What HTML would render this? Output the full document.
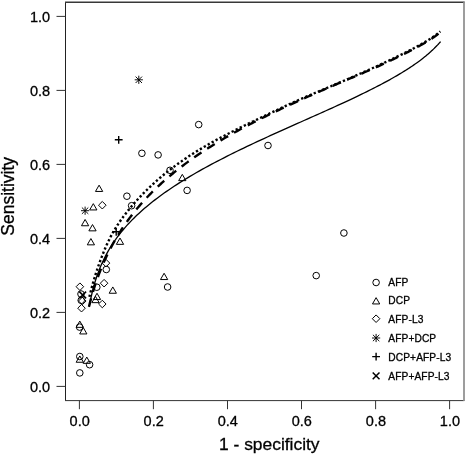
<!DOCTYPE html>
<html><head><meta charset="utf-8"><title>SROC</title>
<style>
html,body{margin:0;padding:0;background:#fff;}
body{width:466px;height:454px;overflow:hidden;}
svg{display:block;}
text{font-family:"Liberation Sans",sans-serif;fill:#000;stroke:#000;stroke-width:0.3px;}
</style></head><body>
<svg width="466" height="454" viewBox="0 0 466 454">
<rect width="466" height="454" fill="#fff"/>
<path d="M65.5,400.6 V2.2" stroke="#222" stroke-width="1" fill="none"/>
<path d="M65,400.6 H464.3" stroke="#333" stroke-width="1" fill="none"/>
<path d="M65,2.25 H464.5" stroke="#383838" stroke-width="1.4" fill="none"/>
<path d="M464,1.6 V401.1" stroke="#8c8c8c" stroke-width="1.7" fill="none"/>
<path d="M79.4,400.6 V409.2" stroke="#333" stroke-width="1"/>
<path d="M56.5,386.4 H65.5" stroke="#333" stroke-width="1"/>
<text x="79.7" y="426" font-size="14.5" text-anchor="middle">0.0</text>
<text x="50.2" y="392" font-size="14.5" text-anchor="end">0.0</text>
<path d="M153.4,400.6 V409.2" stroke="#333" stroke-width="1"/>
<path d="M56.5,312.4 H65.5" stroke="#333" stroke-width="1"/>
<text x="153.7" y="426" font-size="14.5" text-anchor="middle">0.2</text>
<text x="50.2" y="318" font-size="14.5" text-anchor="end">0.2</text>
<path d="M227.5,400.6 V409.2" stroke="#333" stroke-width="1"/>
<path d="M56.5,238.4 H65.5" stroke="#333" stroke-width="1"/>
<text x="227.8" y="426" font-size="14.5" text-anchor="middle">0.4</text>
<text x="50.2" y="244" font-size="14.5" text-anchor="end">0.4</text>
<path d="M301.5,400.6 V409.2" stroke="#333" stroke-width="1"/>
<path d="M56.5,164.4 H65.5" stroke="#333" stroke-width="1"/>
<text x="301.8" y="426" font-size="14.5" text-anchor="middle">0.6</text>
<text x="50.2" y="170" font-size="14.5" text-anchor="end">0.6</text>
<path d="M375.6,400.6 V409.2" stroke="#333" stroke-width="1"/>
<path d="M56.5,90.4 H65.5" stroke="#333" stroke-width="1"/>
<text x="375.9" y="426" font-size="14.5" text-anchor="middle">0.8</text>
<text x="50.2" y="96" font-size="14.5" text-anchor="end">0.8</text>
<path d="M449.6,400.6 V409.2" stroke="#333" stroke-width="1"/>
<path d="M56.5,16.4 H65.5" stroke="#333" stroke-width="1"/>
<text x="449.9" y="426" font-size="14.5" text-anchor="middle">1.0</text>
<text x="50.2" y="22" font-size="14.5" text-anchor="end">1.0</text>
<text x="269.3" y="450" font-size="17.4" text-anchor="middle">1 - specificity</text>
<text transform="translate(14,196.3) rotate(-90)" font-size="17.5" text-anchor="middle">Sensitivity</text>
<path d="M89.30,306.35 L89.66,304.41 L90.03,302.48 L90.42,300.55 L90.81,298.64 L91.23,296.73 L91.65,294.83 L92.09,292.95 L92.55,291.08 L93.02,289.21 L93.51,287.36 L94.02,285.51 L94.54,283.68 L95.08,281.86 L95.64,280.05 L96.22,278.24 L96.81,276.45 L97.43,274.66 L98.07,272.89 L98.73,271.12 L99.41,269.36 L100.12,267.61 L100.85,265.86 L101.60,264.13 L102.37,262.40 L103.18,260.67 L104.00,258.95 L104.86,257.24 L105.74,255.53 L106.65,253.82 L107.59,252.12 L108.56,250.43 L109.56,248.73 L110.59,247.04 L111.65,245.35 L112.74,243.67 L113.87,241.98 L115.03,240.30 L116.23,238.62 L117.46,236.94 L118.73,235.26 L120.04,233.58 L121.38,231.90 L122.76,230.22 L124.18,228.55 L125.64,226.87 L127.15,225.19 L128.69,223.51 L130.28,221.83 L131.90,220.14 L133.58,218.46 L135.29,216.78 L137.05,215.09 L138.86,213.41 L140.71,211.72 L142.60,210.03 L144.54,208.34 L146.53,206.65 L148.57,204.96 L150.65,203.27 L152.78,201.57 L154.96,199.88 L157.19,198.18 L159.46,196.49 L161.78,194.79 L164.15,193.09 L166.57,191.40 L169.03,189.70 L171.54,188.01 L174.10,186.31 L176.70,184.62 L179.35,182.92 L182.05,181.23 L184.78,179.54 L187.57,177.85 L190.39,176.16 L193.26,174.48 L196.16,172.79 L199.11,171.11 L202.10,169.44 L205.12,167.76 L208.17,166.09 L211.27,164.43 L214.39,162.77 L217.55,161.11 L220.73,159.46 L223.95,157.81 L227.18,156.17 L230.45,154.53 L233.73,152.90 L237.04,151.28 L240.36,149.66 L243.70,148.05 L247.05,146.44 L250.41,144.85 L253.79,143.26 L257.17,141.68 L260.55,140.11 L263.94,138.54 L267.33,136.99 L270.72,135.44 L274.10,133.91 L277.48,132.38 L280.84,130.86 L284.20,129.36 L287.54,127.86 L290.87,126.37 L294.18,124.90 L297.48,123.43 L300.75,121.97 L303.99,120.53 L307.21,119.10 L310.41,117.68 L313.57,116.27 L316.71,114.87 L319.81,113.48 L322.88,112.11 L325.91,110.75 L328.91,109.40 L331.87,108.06 L334.79,106.74 L337.67,105.42 L340.51,104.12 L343.31,102.84 L346.06,101.56 L348.77,100.30 L351.43,99.05 L354.05,97.82 L356.62,96.59 L359.15,95.38 L361.63,94.19 L364.06,93.00 L366.44,91.83 L368.78,90.67 L371.07,89.53 L373.31,88.40 L375.51,87.28 L377.65,86.17 L379.75,85.08 L381.80,84.00 L383.81,82.93 L385.76,81.88 L387.68,80.84 L389.54,79.81 L391.36,78.79 L393.14,77.79 L394.87,76.80 L396.55,75.83 L398.19,74.86 L399.79,73.91 L401.35,72.98 L402.87,72.05 L404.34,71.14 L405.78,70.24 L407.17,69.35 L408.53,68.48 L409.85,67.61 L411.13,66.76 L412.37,65.93 L413.58,65.10 L414.75,64.29 L415.89,63.49 L417.00,62.70 L418.07,61.92 L419.11,61.16 L420.12,60.40 L421.10,59.66 L422.04,58.93 L422.96,58.22 L423.86,57.51 L424.72,56.82 L425.55,56.14 L426.37,55.47 L427.15,54.81 L427.91,54.16 L428.65,53.53 L429.36,52.90 L430.05,52.29 L430.71,51.69 L431.36,51.10 L431.98,50.52 L432.59,49.95 L433.17,49.40 L433.74,48.85 L434.29,48.32 L434.81,47.79 L435.32,47.28 L435.82,46.78 L436.30,46.29 L436.76,45.81 L437.20,45.34 L437.64,44.89 L438.05,44.44 L438.46,44.00 L438.84,43.58 L439.22,43.16 L439.58,42.76 L439.93,42.37 L440.27,41.98 L440.60,41.61" fill="none" stroke="#000" stroke-width="1.3"/>
<path d="M88.80,307.39 L88.97,306.68 L89.14,305.98 L89.32,305.27 L89.49,304.55 L89.68,303.83 L89.86,303.10 L90.05,302.37 L90.24,301.64 L90.43,300.89 L90.63,300.15 L90.83,299.40 L91.04,298.64 L91.24,297.88 L91.46,297.12 L91.67,296.35 L91.89,295.57 L92.11,294.79 L92.34,294.01 L92.57,293.22 L92.80,292.43 L93.04,291.63 L93.28,290.83 L93.53,290.02 L93.78,289.21 L94.04,288.39 L94.30,287.57 L94.56,286.74 L94.83,285.91 L95.10,285.07 L95.38,284.23 L95.66,283.39 L95.95,282.54 L96.24,281.68 L96.54,280.82 L96.84,279.96 L97.14,279.09 L97.46,278.22 L97.77,277.34 L98.10,276.46 L98.42,275.58 L98.76,274.69 L99.09,273.79 L99.44,272.89 L99.79,271.99 L100.14,271.08 L100.50,270.17 L100.87,269.26 L101.24,268.34 L101.62,267.41 L102.01,266.48 L102.40,265.55 L102.80,264.62 L103.20,263.68 L103.61,262.73 L104.03,261.79 L104.46,260.84 L104.89,259.88 L105.32,258.92 L105.77,257.96 L106.22,256.99 L106.68,256.02 L107.15,255.05 L107.62,254.08 L108.10,253.10 L108.59,252.11 L109.08,251.13 L109.59,250.14 L110.10,249.14 L110.62,248.15 L111.14,247.15 L111.68,246.15 L112.22,245.14 L112.77,244.13 L113.33,243.12 L113.90,242.11 L114.48,241.09 L115.06,240.07 L115.66,239.05 L116.26,238.03 L116.87,237.00 L117.49,235.97 L118.12,234.94 L118.76,233.90 L119.41,232.87 L120.07,231.83 L120.74,230.79 L121.41,229.74 L122.10,228.70 L122.80,227.65 L123.50,226.60 L124.22,225.55 L124.94,224.50 L125.68,223.45 L126.43,222.39 L127.18,221.34 L127.95,220.28 L128.73,219.22 L129.51,218.16 L130.31,217.10 L131.12,216.04 L131.94,214.97 L132.77,213.91 L133.61,212.84 L134.46,211.77 L135.33,210.71 L136.20,209.64 L137.09,208.57 L137.98,207.50 L138.89,206.43 L139.81,205.36 L140.74,204.29 L141.68,203.22 L142.64,202.15 L143.60,201.08 L144.58,200.01 L145.57,198.94 L146.57,197.87 L147.58,196.80 L148.60,195.73 L149.64,194.66 L150.69,193.59 L151.75,192.52 L152.82,191.45 L153.90,190.38 L155.00,189.32 L156.10,188.25 L157.22,187.19 L158.35,186.12 L159.49,185.06 L160.65,184.00 L161.81,182.94 L162.99,181.88 L164.18,180.82 L165.39,179.77 L166.60,178.71 L167.83,177.66 L169.06,176.61 L170.31,175.56 L171.57,174.51 L172.85,173.46 L174.13,172.42 L175.43,171.38 L176.73,170.34 L178.05,169.30 L179.38,168.26 L180.72,167.23 L182.07,166.20 L183.44,165.17 L184.81,164.14 L186.20,163.12 L187.59,162.10 L189.00,161.08 L190.42,160.06 L191.84,159.05 L193.28,158.04 L194.73,157.03 L196.19,156.02 L197.65,155.02 L199.13,154.02 L200.62,153.03 L202.12,152.04 L203.62,151.05 L205.14,150.06 L206.66,149.08 L208.19,148.10 L209.73,147.12 L211.28,146.15 L212.84,145.18 L214.41,144.22 L215.98,143.26 L217.56,142.30 L219.15,141.34 L220.74,140.39 L222.35,139.45 L223.96,138.50 L225.57,137.57 L227.19,136.63 L228.82,135.70 L230.45,134.77 L232.09,133.85 L233.74,132.93 L235.39,132.02 L237.04,131.11 L238.70,130.20 L240.36,129.30 L242.03,128.40 L243.70,127.51 L245.37,126.62 L247.05,125.73 L248.73,124.85 L250.41,123.98 L252.10,123.11 L253.78,122.24 L255.47,121.38 L257.16,120.52 L258.86,119.67 L260.55,118.82 L262.24,117.97 L263.93,117.13 L265.63,116.30 L267.32,115.47 L269.01,114.64 L270.71,113.82 L272.40,113.00 L274.09,112.19 L275.78,111.39 L277.46,110.58 L279.15,109.79 L280.83,108.99 L282.51,108.21 L284.18,107.42 L285.85,106.65 L287.52,105.87 L289.19,105.10 L290.85,104.34 L292.51,103.58 L294.16,102.83 L295.81,102.08 L297.45,101.33 L299.09,100.60 L300.72,99.86 L302.35,99.13 L303.96,98.41 L305.58,97.69 L307.19,96.97 L308.79,96.26 L310.38,95.56 L311.96,94.85 L313.54,94.16 L315.11,93.47 L316.68,92.78 L318.23,92.10 L319.78,91.43 L321.32,90.75 L322.85,90.09 L324.37,89.43 L325.88,88.77 L327.38,88.12 L328.88,87.47 L330.36,86.83 L331.83,86.19 L333.30,85.56 L334.75,84.93 L336.20,84.30 L337.63,83.68 L339.06,83.07 L340.47,82.46 L341.87,81.86 L343.26,81.26 L344.65,80.68 L346.02,80.11 L347.38,79.55 L348.72,78.99 L350.06,78.43 L351.39,77.87 L352.70,77.32 L354.01,76.77 L355.30,76.23 L356.58,75.69 L357.85,75.15 L359.10,74.61 L360.35,74.08 L361.58,73.56 L362.80,73.03 L364.01,72.51 L365.21,72.00 L366.40,71.49 L367.57,70.98 L368.74,70.48 L369.89,69.97 L371.02,69.48 L372.15,68.98 L373.27,68.50 L374.37,68.01 L375.46,67.52 L376.54,67.03 L377.61,66.54 L378.66,66.06 L379.70,65.58 L380.74,65.10 L381.76,64.63 L382.76,64.16 L383.76,63.70 L384.75,63.24 L385.72,62.78 L386.68,62.33 L387.63,61.89 L388.57,61.44 L389.50,61.01 L390.41,60.57 L391.32,60.14 L392.21,59.72 L393.09,59.30 L393.96,58.88 L394.82,58.47 L395.67,58.06 L396.51,57.65 L397.33,57.25 L398.15,56.86 L398.95,56.46 L399.75,56.08 L400.53,55.69 L401.31,55.31 L402.07,54.93 L402.82,54.56 L403.57,54.19 L404.30,53.83 L405.02,53.47 L405.73,53.11 L406.44,52.76 L407.13,52.41 L407.81,52.06 L408.49,51.72 L409.15,51.38 L409.80,51.04 L410.45,50.71 L411.09,50.38 L411.71,50.05 L412.33,49.73 L412.94,49.41 L413.54,49.10 L414.13,48.79 L414.71,48.48 L415.29,48.17 L415.85,47.87 L416.41,47.57 L416.96,47.27 L417.50,46.98 L418.03,46.69 L418.56,46.40 L419.07,46.12 L419.58,45.84 L420.08,45.56 L420.58,45.29 L421.06,45.01 L421.54,44.74 L422.01,44.48 L422.47,44.21 L422.93,43.95 L423.38,43.69 L423.82,43.44 L424.26,43.18 L424.69,42.93 L425.11,42.69 L425.52,42.44 L425.93,42.20 L426.33,41.96 L426.73,41.72 L427.12,41.48 L427.50,41.25 L427.88,41.02 L428.25,40.79 L428.62,40.57 L428.98,40.34 L429.33,40.12 L429.68,39.90 L430.02,39.68 L430.36,39.47 L430.69,39.26 L431.01,39.04 L431.33,38.84 L431.65,38.63 L431.96,38.42 L432.26,38.22 L432.56,38.02 L432.86,37.82 L433.15,37.62 L433.43,37.43 L433.71,37.23 L433.99,37.04 L434.26,36.85 L434.53,36.66 L434.79,36.48 L435.05,36.29 L435.30,36.11 L435.55,35.93 L435.80,35.75 L436.04,35.57 L436.27,35.39 L436.51,35.21 L436.74,35.04 L436.96,34.87 L437.18,34.70 L437.40,34.52 L437.62,34.36 L437.83,34.19 L438.03,34.02 L438.24,33.86 L438.44,33.69 L438.63,33.53 L438.83,33.37 L439.01,33.21 L439.20,33.05 L439.38,32.89 L439.57,32.73 L439.74,32.58 L439.92,32.42 L440.09,32.27 L440.26,32.12" fill="none" stroke="#000" stroke-width="2.4" stroke-dasharray="8.8,6.82" stroke-dashoffset="-0.5"/>
<path d="M89.40,296.90 L89.58,296.15 L89.76,295.39 L89.94,294.62 L90.13,293.86 L90.32,293.08 L90.52,292.30 L90.71,291.52 L90.91,290.73 L91.12,289.94 L91.32,289.15 L91.54,288.34 L91.75,287.54 L91.97,286.73 L92.19,285.91 L92.42,285.09 L92.65,284.26 L92.88,283.43 L93.12,282.60 L93.36,281.75 L93.61,280.91 L93.86,280.06 L94.11,279.20 L94.37,278.34 L94.63,277.47 L94.90,276.60 L95.17,275.72 L95.45,274.84 L95.73,273.95 L96.01,273.06 L96.30,272.16 L96.60,271.26 L96.90,270.35 L97.20,269.44 L97.51,268.52 L97.83,267.59 L98.15,266.66 L98.47,265.73 L98.80,264.79 L99.14,263.84 L99.48,262.89 L99.83,261.93 L100.18,260.97 L100.54,260.00 L100.90,259.03 L101.28,258.05 L101.65,257.07 L102.03,256.08 L102.42,255.08 L102.82,254.08 L103.22,253.08 L103.63,252.07 L104.04,251.06 L104.46,250.05 L104.89,249.04 L105.32,248.02 L105.76,247.01 L106.21,245.99 L106.66,244.98 L107.13,243.96 L107.59,242.95 L108.07,241.93 L108.55,240.92 L109.05,239.92 L109.54,238.91 L110.05,237.91 L110.56,236.92 L111.09,235.93 L111.61,234.94 L112.15,233.96 L112.70,232.98 L113.25,232.01 L113.81,231.04 L114.38,230.07 L114.96,229.10 L115.55,228.14 L116.15,227.18 L116.75,226.23 L117.37,225.27 L117.99,224.32 L118.62,223.37 L119.26,222.42 L119.91,221.47 L120.57,220.53 L121.24,219.58 L121.91,218.63 L122.60,217.69 L123.30,216.74 L124.01,215.80 L124.72,214.85 L125.45,213.91 L126.19,212.96 L126.93,212.02 L127.69,211.07 L128.46,210.12 L129.23,209.17 L130.02,208.21 L130.82,207.26 L131.63,206.30 L132.45,205.34 L133.28,204.38 L134.12,203.41 L134.97,202.45 L135.83,201.48 L136.70,200.51 L137.59,199.53 L138.48,198.56 L139.39,197.58 L140.30,196.61 L141.23,195.63 L142.17,194.65 L143.12,193.67 L144.09,192.69 L145.06,191.70 L146.05,190.72 L147.04,189.74 L148.05,188.75 L149.07,187.77 L150.10,186.79 L151.15,185.80 L152.20,184.82 L153.27,183.84 L154.35,182.85 L155.44,181.87 L156.54,180.89 L157.65,179.91 L158.78,178.93 L159.92,177.95 L161.07,176.97 L162.23,176.00 L163.40,175.02 L164.58,174.05 L165.78,173.08 L166.98,172.11 L168.20,171.14 L169.43,170.18 L170.67,169.21 L171.93,168.25 L173.19,167.30 L174.47,166.34 L175.76,165.39 L177.05,164.44 L178.36,163.49 L179.68,162.55 L181.02,161.61 L182.36,160.68 L183.71,159.74 L185.08,158.81 L186.45,157.89 L187.84,156.97 L189.23,156.05 L190.64,155.14 L192.06,154.23 L193.48,153.32 L194.92,152.42 L196.37,151.52 L197.82,150.63 L199.29,149.74 L200.76,148.85 L202.25,147.97 L203.74,147.09 L205.24,146.21 L206.76,145.34 L208.28,144.47 L209.80,143.60 L211.34,142.74 L212.88,141.88 L214.44,141.03 L216.00,140.17 L217.56,139.32 L219.14,138.48 L220.72,137.63 L222.31,136.79 L223.90,135.95 L225.50,135.12 L227.11,134.28 L228.72,133.45 L230.34,132.62 L231.97,131.80 L233.60,130.97 L235.23,130.15 L236.87,129.33 L238.51,128.51 L240.16,127.69 L241.81,126.88 L243.47,126.07 L245.13,125.25 L246.79,124.44 L248.45,123.63 L250.12,122.82 L251.79,122.01 L253.46,121.21 L255.14,120.40 L256.81,119.60 L258.49,118.79 L260.17,117.99 L261.85,117.18 L263.52,116.38 L265.20,115.57 L266.88,114.77 L268.56,113.97 L270.24,113.17 L271.91,112.37 L273.59,111.58 L275.26,110.78 L276.94,109.99 L278.61,109.20 L280.27,108.42 L281.94,107.64 L283.60,106.86 L285.26,106.09 L286.92,105.32 L288.57,104.56 L290.22,103.80 L291.86,103.05 L293.50,102.31 L295.14,101.57 L296.77,100.84 L298.39,100.12 L300.01,99.40 L301.63,98.69 L303.24,97.99 L304.84,97.29 L306.43,96.60 L308.02,95.92 L309.61,95.24 L311.18,94.57 L312.75,93.90 L314.31,93.24 L315.86,92.59 L317.41,91.93 L318.95,91.29 L320.48,90.64 L322.00,90.00 L323.51,89.37 L325.01,88.74 L326.51,88.11 L327.99,87.48 L329.47,86.86 L330.94,86.24 L332.40,85.62 L333.84,85.01 L335.28,84.40 L336.71,83.79 L338.13,83.19 L339.54,82.59 L340.94,82.00 L342.32,81.40 L343.70,80.81 L345.07,80.23 L346.42,79.65 L347.77,79.07 L349.10,78.49 L350.42,77.92 L351.73,77.35 L353.03,76.79 L354.32,76.23 L355.60,75.67 L356.87,75.12 L358.12,74.57 L359.37,74.02 L360.60,73.48 L361.82,72.94 L363.03,72.41 L364.22,71.88 L365.41,71.35 L366.58,70.83 L367.75,70.31 L368.90,69.79 L370.04,69.28 L371.16,68.77 L372.28,68.27 L373.38,67.77 L374.47,67.27 L375.56,66.78 L376.62,66.29 L377.68,65.81 L378.73,65.33 L379.76,64.85 L380.78,64.38 L381.79,63.91 L382.79,63.45 L383.78,62.99 L384.75,62.53 L385.72,62.08 L386.67,61.64 L387.61,61.19 L388.54,60.75 L389.46,60.32 L390.37,59.89 L391.27,59.46 L392.15,59.04 L393.03,58.62 L393.89,58.21 L394.75,57.80 L395.59,57.40 L396.42,56.99 L397.24,56.60 L398.05,56.20 L398.85,55.81 L399.64,55.43 L400.42,55.05 L401.19,54.67 L401.95,54.30 L402.69,53.93 L403.43,53.56 L404.16,53.20 L404.88,52.84 L405.59,52.48 L406.28,52.13 L406.97,51.78 L407.65,51.44 L408.32,51.10 L408.98,50.76 L409.64,50.43 L410.28,50.10 L410.91,49.77 L411.53,49.45 L412.15,49.13 L412.76,48.81 L413.35,48.50 L413.94,48.19 L414.52,47.88 L415.09,47.57 L415.66,47.27 L416.21,46.98 L416.76,46.68 L417.30,46.39 L417.83,46.10 L418.35,45.82 L418.87,45.53 L419.37,45.25 L419.87,44.98 L420.37,44.70 L420.85,44.43 L421.33,44.16 L421.80,43.90 L422.26,43.63 L422.72,43.37 L423.17,43.12 L423.61,42.86 L424.04,42.61 L424.47,42.36 L424.89,42.11 L425.31,41.87 L425.72,41.63 L426.12,41.39 L426.51,41.15 L426.90,40.91 L427.29,40.68 L427.66,40.45 L428.04,40.22 L428.40,40.00 L428.76,39.78 L429.11,39.55 L429.46,39.34 L429.81,39.12 L430.14,38.90 L430.47,38.69 L430.80,38.48 L431.12,38.27 L431.44,38.07 L431.75,37.86 L432.05,37.66 L432.35,37.46 L432.65,37.26 L432.94,37.06 L433.23,36.87 L433.51,36.68 L433.79,36.48 L434.06,36.29 L434.33,36.11 L434.59,35.92 L434.85,35.73 L435.10,35.55 L435.35,35.37 L435.60,35.19 L435.84,35.01 L436.08,34.83 L436.32,34.66 L436.55,34.49 L436.77,34.31 L436.99,34.14 L437.21,33.97 L437.43,33.80 L437.64,33.64 L437.85,33.47 L438.05,33.30 L438.26,33.14 L438.45,32.98 L438.65,32.82 L438.84,32.66 L439.03,32.50 L439.21,32.34 L439.39,32.18 L439.57,32.03 L439.75,31.87 L439.92,31.72 L440.09,31.57 L440.26,31.42" fill="none" stroke="#000" stroke-width="2.4" stroke-dasharray="2.3,2.23"/>
<circle cx="141.9" cy="153.3" r="3.30" fill="none" stroke="#000" stroke-width="1.0"/>
<circle cx="158.1" cy="154.9" r="3.30" fill="none" stroke="#000" stroke-width="1.0"/>
<circle cx="126.9" cy="196.2" r="3.30" fill="none" stroke="#000" stroke-width="1.0"/>
<circle cx="131.6" cy="205.7" r="3.30" fill="none" stroke="#000" stroke-width="1.0"/>
<circle cx="170.0" cy="170.3" r="3.30" fill="none" stroke="#000" stroke-width="1.0"/>
<circle cx="198.7" cy="124.6" r="3.30" fill="none" stroke="#000" stroke-width="1.0"/>
<circle cx="187.1" cy="190.4" r="3.30" fill="none" stroke="#000" stroke-width="1.0"/>
<circle cx="268.0" cy="145.5" r="3.30" fill="none" stroke="#000" stroke-width="1.0"/>
<circle cx="343.9" cy="233.0" r="3.30" fill="none" stroke="#000" stroke-width="1.0"/>
<circle cx="316.2" cy="275.6" r="3.30" fill="none" stroke="#000" stroke-width="1.0"/>
<circle cx="106.3" cy="269.5" r="3.30" fill="none" stroke="#000" stroke-width="1.0"/>
<circle cx="96.8" cy="287.2" r="3.30" fill="none" stroke="#000" stroke-width="1.0"/>
<circle cx="81.2" cy="300.3" r="3.30" fill="none" stroke="#000" stroke-width="1.0"/>
<circle cx="167.6" cy="287.0" r="3.30" fill="none" stroke="#000" stroke-width="1.0"/>
<circle cx="79.6" cy="327.1" r="3.30" fill="none" stroke="#000" stroke-width="1.0"/>
<circle cx="79.8" cy="356.5" r="3.30" fill="none" stroke="#000" stroke-width="1.0"/>
<circle cx="89.6" cy="364.7" r="3.30" fill="none" stroke="#000" stroke-width="1.0"/>
<circle cx="79.8" cy="372.9" r="3.30" fill="none" stroke="#000" stroke-width="1.0"/>
<circle cx="81.0" cy="294.0" r="3.30" fill="none" stroke="#000" stroke-width="1.0"/>
<path d="M99.1,185.15 L102.73,191.45 L95.47,191.45 Z" fill="none" stroke="#000" stroke-width="1.0"/>
<path d="M93.3,203.65 L96.93,209.95 L89.67,209.95 Z" fill="none" stroke="#000" stroke-width="1.0"/>
<path d="M85.1,219.45 L88.73,225.75 L81.47,225.75 Z" fill="none" stroke="#000" stroke-width="1.0"/>
<path d="M92.5,224.55 L96.13,230.85 L88.87,230.85 Z" fill="none" stroke="#000" stroke-width="1.0"/>
<path d="M90.9,238.55 L94.53,244.85 L87.27,244.85 Z" fill="none" stroke="#000" stroke-width="1.0"/>
<path d="M120.0,238.05 L123.63,244.35 L116.37,244.35 Z" fill="none" stroke="#000" stroke-width="1.0"/>
<path d="M182.3,174.35 L185.93,180.65 L178.67,180.65 Z" fill="none" stroke="#000" stroke-width="1.0"/>
<path d="M164.1,273.25 L167.73,279.55 L160.47,279.55 Z" fill="none" stroke="#000" stroke-width="1.0"/>
<path d="M112.8,286.95 L116.43,293.25 L109.17,293.25 Z" fill="none" stroke="#000" stroke-width="1.0"/>
<path d="M97.0,293.25 L100.63,299.55 L93.37,299.55 Z" fill="none" stroke="#000" stroke-width="1.0"/>
<path d="M95.5,296.35 L99.13,302.65 L91.87,302.65 Z" fill="none" stroke="#000" stroke-width="1.0"/>
<path d="M79.8,321.05 L83.43,327.35 L76.17,327.35 Z" fill="none" stroke="#000" stroke-width="1.0"/>
<path d="M83.3,327.65 L86.93,333.95 L79.67,333.95 Z" fill="none" stroke="#000" stroke-width="1.0"/>
<path d="M79.8,355.95 L83.43,362.25 L76.17,362.25 Z" fill="none" stroke="#000" stroke-width="1.0"/>
<path d="M86.8,357.05 L90.43,363.35 L83.17,363.35 Z" fill="none" stroke="#000" stroke-width="1.0"/>
<path d="M98.53,205.20 L102.30,201.43 L106.07,205.20 L102.30,208.97 Z" fill="none" stroke="#000" stroke-width="1.0"/>
<path d="M102.23,263.10 L106.00,259.33 L109.77,263.10 L106.00,266.87 Z" fill="none" stroke="#000" stroke-width="1.0"/>
<path d="M100.33,283.20 L104.10,279.43 L107.87,283.20 L104.10,286.97 Z" fill="none" stroke="#000" stroke-width="1.0"/>
<path d="M76.13,286.70 L79.90,282.93 L83.67,286.70 L79.90,290.47 Z" fill="none" stroke="#000" stroke-width="1.0"/>
<path d="M98.53,304.00 L102.30,300.23 L106.07,304.00 L102.30,307.77 Z" fill="none" stroke="#000" stroke-width="1.0"/>
<path d="M77.73,308.20 L81.50,304.43 L85.27,308.20 L81.50,311.97 Z" fill="none" stroke="#000" stroke-width="1.0"/>
<path d="M78.53,301.00 L82.30,297.23 L86.07,301.00 L82.30,304.77 Z" fill="none" stroke="#000" stroke-width="1.0"/>
<path d="M134.70,79.80 H142.90 M138.80,75.70 V83.90" fill="none" stroke="#000" stroke-width="0.95"/><path d="M135.60,76.60 L142.00,83.00 M135.60,83.00 L142.00,76.60" fill="none" stroke="#000" stroke-width="0.95"/>
<path d="M81.00,210.70 H89.20 M85.10,206.60 V214.80" fill="none" stroke="#000" stroke-width="0.95"/><path d="M81.90,207.50 L88.30,213.90 M81.90,213.90 L88.30,207.50" fill="none" stroke="#000" stroke-width="0.95"/>
<path d="M114.80,139.80 H122.60 M118.70,135.90 V143.70" fill="none" stroke="#000" stroke-width="1.4"/>
<path d="M79.30,291.60 L86.10,298.40 M79.30,298.40 L86.10,291.60" fill="none" stroke="#000" stroke-width="1.5"/>
<path d="M112.30,231.80 H120.10 M116.20,227.90 V235.70" fill="none" stroke="#000" stroke-width="1.4"/>
<circle cx="376.1" cy="282.5" r="3.30" fill="none" stroke="#000" stroke-width="1.0"/>
<path d="M376.1,297.65 L379.73,303.95 L372.47,303.95 Z" fill="none" stroke="#000" stroke-width="1.0"/>
<path d="M372.33,318.70 L376.10,314.93 L379.87,318.70 L376.10,322.47 Z" fill="none" stroke="#000" stroke-width="1.0"/>
<path d="M372.00,338.00 H380.20 M376.10,333.90 V342.10" fill="none" stroke="#000" stroke-width="0.95"/><path d="M372.90,334.80 L379.30,341.20 M372.90,341.20 L379.30,334.80" fill="none" stroke="#000" stroke-width="0.95"/>
<path d="M372.20,356.60 H380.00 M376.10,352.70 V360.50" fill="none" stroke="#000" stroke-width="1.4"/>
<path d="M372.70,372.50 L379.50,379.30 M372.70,379.30 L379.50,372.50" fill="none" stroke="#000" stroke-width="1.5"/>
<text x="388.3" y="286" font-size="10.2" letter-spacing="0.1">AFP</text>
<text x="388.3" y="304" font-size="10.2" letter-spacing="0.1">DCP</text>
<text x="388.3" y="323" font-size="10.2" letter-spacing="0.1">AFP-L3</text>
<text x="388.3" y="342" font-size="10.2" letter-spacing="0.1">AFP+DCP</text>
<text x="388.3" y="361" font-size="10.2" letter-spacing="0.1">DCP+AFP-L3</text>
<text x="388.3" y="380" font-size="10.2" letter-spacing="0.1">AFP+AFP-L3</text>
</svg></body></html>
